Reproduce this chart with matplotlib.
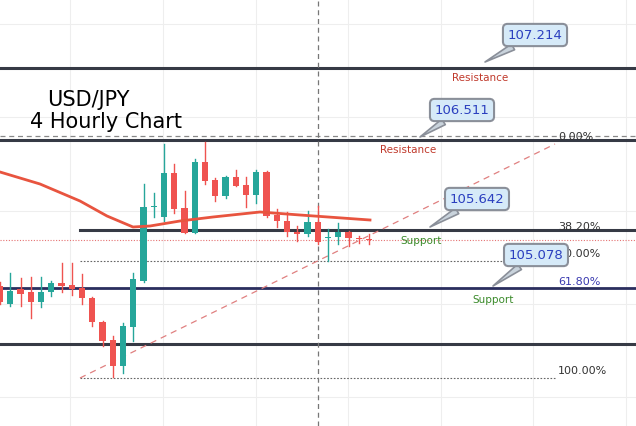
import numpy as np
import matplotlib
matplotlib.use("Agg")
import matplotlib.pyplot as plt

# price scale: 107.214 at y=69px, 105.078 at y=289px
P_PER_PX = (107.214 - 105.078) / 220.0
def py(y):
    return 107.214 - (y - 69) * P_PER_PX

CANDLE_PX = 10.25
def px(x):
    return x / CANDLE_PX

# candle OHLC in prices (pixel rows converted)
opens_px  = [287, 305, 290, 293, 303, 293, 284, 286, 289, 299, 323, 341, 367, 328, 282, 208, 218, 174, 209, 234, 163, 181, 197, 178, 186, 196, 173, 216, 222, 233, 235, 223, 239, 238, 233, 239, 240]
closes_px = [303, 292, 295, 303, 293, 284, 287, 290, 299, 323, 342, 367, 327, 280, 208, 207, 174, 210, 234, 163, 182, 197, 178, 187, 196, 173, 217, 222, 233, 235, 223, 243, 238, 233, 239, 240, 241]
highs_px  = [283, 274, 279, 278, 278, 282, 264, 264, 275, 298, 322, 337, 324, 274, 185, 194, 145, 165, 192, 160, 143, 179, 177, 171, 178, 171, 172, 210, 213, 227, 212, 207, 230, 224, 232, 237, 235]
lows_px   = [305, 307, 307, 319, 308, 297, 293, 296, 305, 327, 347, 378, 374, 342, 283, 218, 222, 214, 234, 234, 185, 202, 199, 187, 208, 204, 218, 228, 237, 242, 237, 245, 262, 245, 247, 244, 245]

opens = [py(v) for v in opens_px]
closes = [py(v) for v in closes_px]
highs = [py(v) for v in highs_px]
lows = [py(v) for v in lows_px]

ma_x_px = [0, 40, 80, 107, 133, 150, 180, 213, 260, 300, 370]
ma_y_px = [173, 185, 202, 217, 228, 227, 222, 218, 213, 216, 221]

GREEN = "#26a69a"
RED = "#ef5350"
DARK = "#363a45"

fig = plt.figure(figsize=(6.36, 4.27), dpi=100)
ax = fig.add_axes([0, 0, 1, 1])
ax.set_xlim(0, px(636))
ax.set_ylim(py(427), py(0))
ax.axis("off")

# faint grid
for gx in [70, 163, 256, 348, 441, 533, 626]:
    ax.axvline(px(gx), color="#eeeeee", lw=0.8, zorder=0)
for gy in [25, 118, 212, 305, 398]:
    ax.axhline(py(gy), color="#eeeeee", lw=0.8, zorder=0)

# support / resistance lines
for lvl, xmin in [(107.214, 0), (106.511, 0), (py(345), 0)]:
    ax.axhline(lvl, color=DARK, lw=2.2, zorder=2)
ax.plot([px(80), px(636)], [105.642, 105.642], color=DARK, lw=2.2, zorder=2)
ax.axhline(105.078, color="#2a2e5e", lw=2.0, zorder=2)
ax.axhline(py(241), color="#e57373", lw=0.8, ls=(0, (1, 1.5)), zorder=2)
ax.axhline(py(137), color="#888888", lw=0.9, ls=(0, (4, 3)), zorder=2)
for yy in [262, 379]:
    ax.plot([px(80), px(555)], [py(yy)] * 2, color="#666666", lw=0.8, ls=(0, (1.5, 1.5)), zorder=2)
ax.axvline(px(318), color="#777777", lw=0.9, ls=(0, (4, 3)), zorder=2)
ax.plot([px(80), px(555)], [py(379), py(145)], color="#e08080", lw=0.9, ls=(0, (5, 4)), zorder=2)

# candles
for i, (o, c, h, l) in enumerate(zip(opens, closes, highs, lows)):
    col = GREEN if c >= o else RED
    ax.plot([i, i], [l, h], color=col, lw=1, zorder=3)
    ax.bar(i, abs(c - o) if abs(c - o) > 0.005 else 0.008, bottom=min(o, c),
           width=0.6, color=col, zorder=4)

ax.plot([px(v) for v in ma_x_px], [py(v) for v in ma_y_px], color="#e8543f", lw=2, zorder=5)

# title
ax.text(px(47), py(100), "USD/JPY", fontsize=15, va="center", ha="left")
ax.text(px(30), py(122), "4 Hourly Chart", fontsize=15, va="center", ha="left")

# callouts
for label, bx, by, tx, ty in [("107.214", 535, 36, 485, 63),
                              ("106.511", 462, 111, 420, 138),
                              ("105.642", 477, 200, 430, 228),
                              ("105.078", 536, 256, 493, 287)]:
    ax.annotate(label, xy=(px(tx), py(ty)), xytext=(px(bx), py(by)),
                ha="center", va="center", fontsize=9.5, color="#2b3fbf", zorder=7,
                bbox=dict(boxstyle="round,pad=0.35", fc="#d6eaf8", ec="#8a8f99", lw=1.5),
                arrowprops=dict(arrowstyle="wedge,tail_width=0.5", fc="#c9d3dc", ec="#8a8f99",
                                lw=1.2, shrinkA=0, shrinkB=0))

ax.text(px(480), py(78), "Resistance", color="#c0392b", fontsize=7.5, ha="center", va="center")
ax.text(px(408), py(150), "Resistance", color="#c0392b", fontsize=7.5, ha="center", va="center")
ax.text(px(421), py(241), "Support", color="#3a8a2a", fontsize=7.5, ha="center", va="center")
ax.text(px(493), py(300), "Support", color="#3a8a2a", fontsize=7.5, ha="center", va="center")

for lab, yy, col in [("0.00%", 137, "#333333"), ("38.20%", 227, "#333333"),
                     ("50.00%", 254, "#333333"), ("61.80%", 282, "#3a3ab0"),
                     ("100.00%", 371, "#333333")]:
    ax.text(px(558), py(yy), lab, color=col, fontsize=8, ha="left", va="center")

fig.savefig("out.png", dpi=100)
